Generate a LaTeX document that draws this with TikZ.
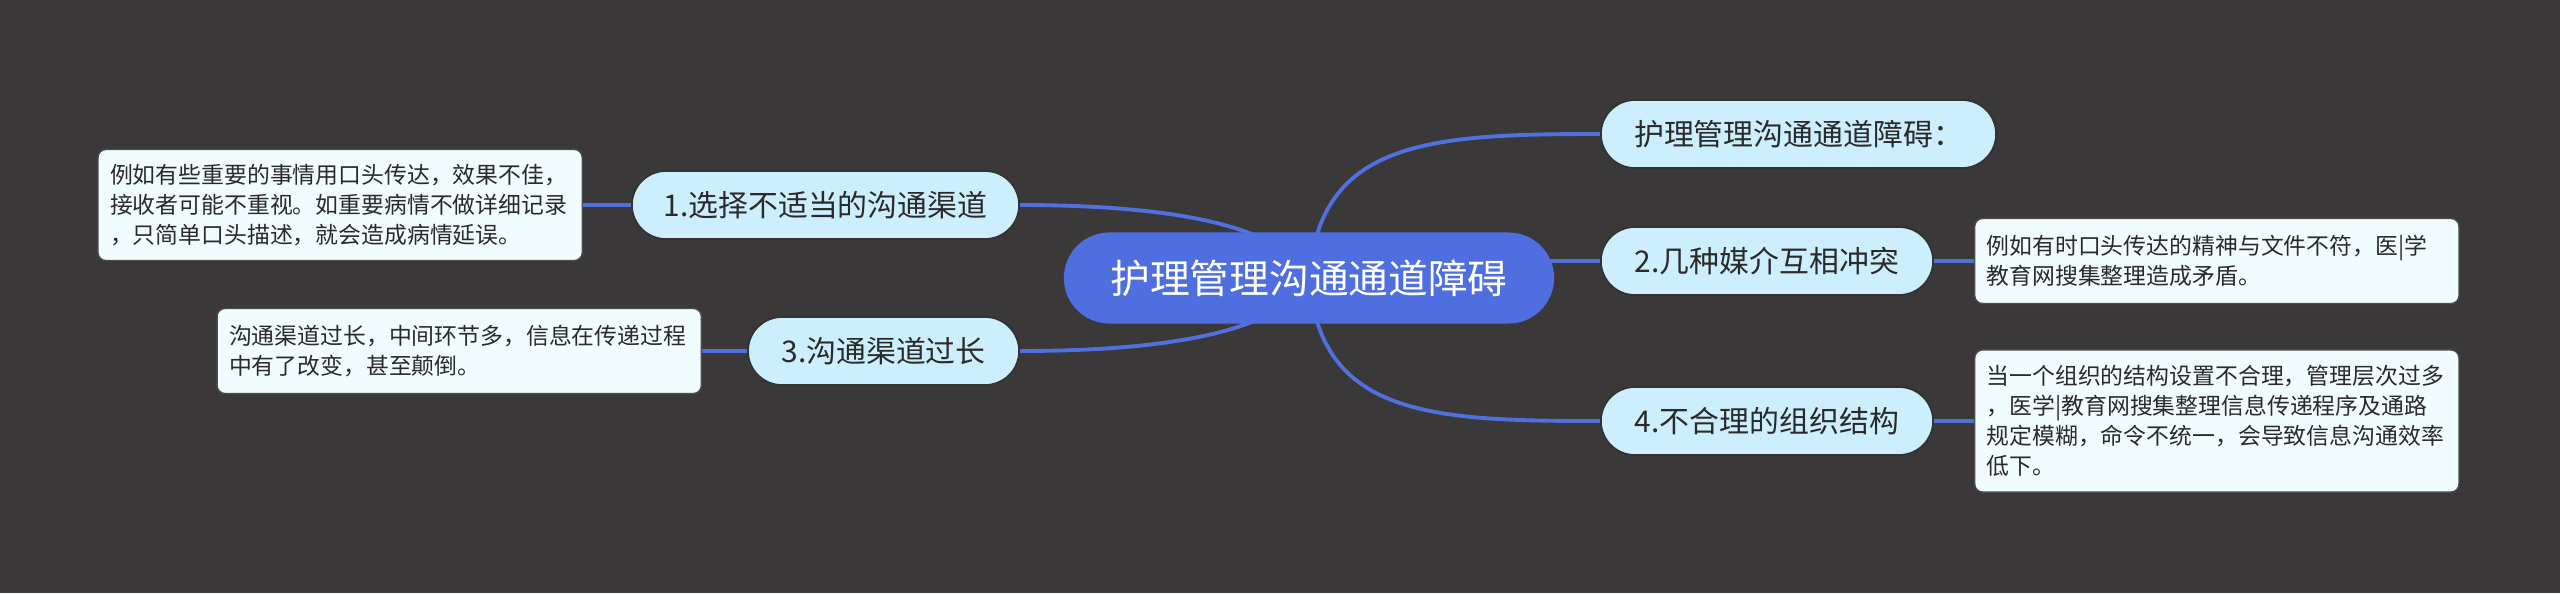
\documentclass[tikz,border=0pt]{standalone}
\usepackage{fontspec}
\setmainfont{Noto Sans CJK SC}
\usetikzlibrary{positioning}
\definecolor{bgdark}{HTML}{3A3839}
\definecolor{rootblue}{HTML}{4F6FE0}
\definecolor{branchcyan}{HTML}{CDEFFD}
\definecolor{notewhite}{HTML}{F1FCFF}
\definecolor{linkblue}{HTML}{5070DE}
\definecolor{inkdark}{HTML}{2A2A2A}
\pgfdeclarelayer{back}
\pgfdeclarelayer{links}
\pgfsetlayers{back,links,main}

\begin{document}
\begin{tikzpicture}[x=0.01cm,y=-0.01cm,node distance=0.4cm,
		link/.style={draw=linkblue,line width=1.1pt}]
		\tikzstyle{hubstyle}=[fill=rootblue,text=white,rounded corners=0.455cm,
			minimum width=4.9cm,minimum height=0.91cm,font=\fontsize{11.3}{13}\selectfont]
		\tikzstyle{branch}=[fill=branchcyan,draw=black!80,line width=0.5pt,text=inkdark,
			rounded corners=0.34cm,minimum height=0.68cm,font=\fontsize{8.5}{10}\selectfont]
		\tikzstyle{note}=[fill=notewhite,draw=black!70,line width=0.4pt,text=inkdark,
			rounded corners=0.08cm,text width=4.6cm,align=left,inner xsep=0.12cm,
			inner ysep=0.1cm,font=\fontsize{6.5}{8.5}\selectfont]
		
		\begin{pgfonlayer}{back}
		\fill[bgdark] (0,0) rectangle (2560,593);
		\end{pgfonlayer}
		
		\node[hubstyle] (hub) at (1309,278) {护理管理沟通通道障碍};
		
		\node[branch,anchor=east,minimum width=3.87cm] (ch1) at (1020,205) {1.选择不适当的沟通渠道};
		\node[branch,anchor=east,minimum width=2.71cm] (ch3) at (1020,351) {3.沟通渠道过长};
		\node[branch,anchor=west,minimum width=3.95cm] (ch0) at (1600,134) {护理管理沟通通道障碍：};
		\node[branch,anchor=west,minimum width=3.32cm] (ch2) at (1600,261) {2.几种媒介互相冲突};
		\node[branch,anchor=west,minimum width=3.32cm] (ch4) at (1600,421) {4.不合理的组织结构};
		
		\node[note,left=0.48cm of ch1,minimum height=1.11cm] (ex1)
			{例如有些重要的事情用口头传达，效果不佳，\\接收者可能不重视。如重要病情不做详细记录\\，只简单口头描述，就会造成病情延误。};
		\node[note,left=0.45cm of ch3,minimum height=0.85cm] (ex3)
			{沟通渠道过长，中间环节多，信息在传递过程\\中有了改变，甚至颠倒。};
		\node[note,right=0.4cm of ch2,minimum height=0.85cm] (ex2)
			{例如有时口头传达的精神与文件不符，医|学\\教育网搜集整理造成矛盾。};
		\node[note,right=0.4cm of ch4,minimum height=1.42cm] (ex4)
			{当一个组织的结构设置不合理，管理层次过多\\，医学|教育网搜集整理信息传递程序及通路\\规定模糊，命令不统一，会导致信息沟通效率\\低下。};
		
		\begin{pgfonlayer}{links}
		\path[link] (hub.center) .. controls +(-29,-58) and +(130,0) .. (ch1.east);
		\path[link] (hub.center) .. controls +(-29,58) and +(130,0) .. (ch3.east);
		\path[link] (hub.center) .. controls +(11,-138) and +(-170,0) .. (ch0.west);
		\path[link] (hub.center |- ch2.west) -- (ch2.west);
		\path[link] (hub.center) .. controls +(11,138) and +(-170,0) .. (ch4.west);
		\path[link] (ch1.west) -- (ex1.east);
		\path[link] (ch3.west) -- (ex3.east);
		\path[link] (ch2.east) -- (ex2.west);
		\path[link] (ch4.east) -- (ex4.west);
		\end{pgfonlayer}
\end{tikzpicture}
\end{document}
